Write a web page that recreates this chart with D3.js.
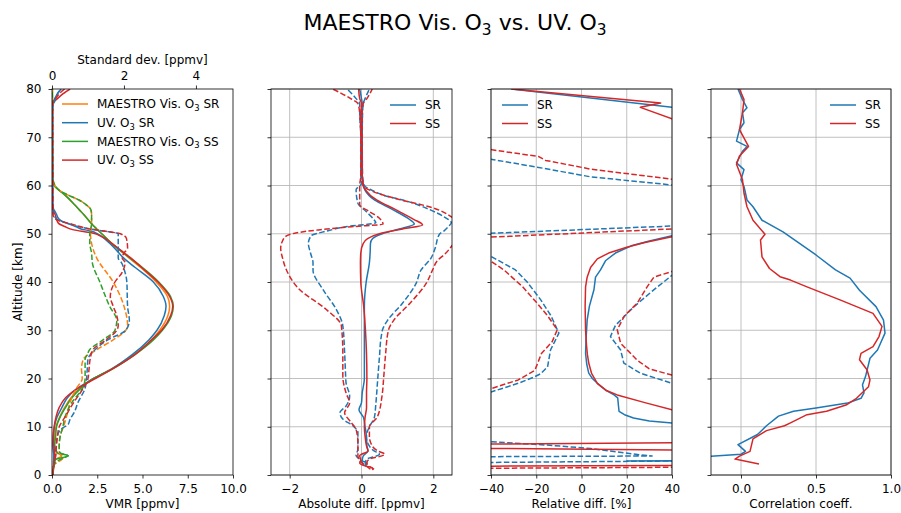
<!DOCTYPE html>
<html><head><meta charset="utf-8">
<script src="https://cdn.jsdelivr.net/npm/d3@7"></script>
<style>body{margin:0;background:#fff} svg{display:block} text{font-family:"DejaVu Sans",sans-serif;fill:#000}</style>
</head><body><svg id="c" width="901" height="513"></svg>
<script>
// ---------- DATA: [altitude km, value] ----------
// Panel 1: VMR profiles (ppmv)
const vmrVisSR = [[0,0.05],[2,0.1],[3.2,0.18],[4,0.55],[4.6,0.25],[6,0.12],[8,0.15],[10,0.22],[12,0.42],[14,0.7],[16,1.05],[18,1.55],[19,1.9],[20,2.3],[22,3.3],[25,4.55],[28,5.5],[30,5.95],[33,6.4],[35,6.5],[37,6.38],[40,5.75],[43,4.9],[45,4.25],[48,3.3],[50,2.75],[51,2.47],[52,2.2],[54,1.75],[55,1.5],[56,1.25],[58,0.72],[59,0.4],[60,0.12],[61,0.04],[65,0.02],[80,0.02]];
const vmrUvSR = [[0,0.05],[2,0.08],[4,0.1],[6,0.05],[8,0.07],[10,0.13],[12,0.28],[14,0.55],[16,0.85],[18,1.4],[19,1.85],[20,2.3],[22,3.3],[25,4.45],[28,5.35],[30,5.8],[33,6.2],[35,6.3],[37,6.15],[40,5.6],[43,4.6],[45,3.95],[46,3.7],[48,3.2],[49,2.9],[50,2.5],[50.5,2.2],[51,1.6],[51.5,1.3],[52,0.95],[52.5,0.6],[53,0.4],[54,0.25],[54.6,0.17],[55,0.1],[56,0.03],[65,0.02],[75,0.02],[77,0.05],[78,0.15],[79,0.3],[80,0.5]];
const vmrVisSS = [[0,0.05],[2,0.1],[3.2,0.2],[4,0.9],[4.6,0.3],[6,0.15],[8,0.2],[10,0.25],[12,0.45],[14,0.75],[16,1.1],[18,1.6],[19,1.9],[20,2.3],[22,3.35],[25,4.6],[28,5.6],[30,6.1],[33,6.6],[35,6.7],[37,6.55],[40,5.9],[43,5.0],[45,4.3],[48,3.3],[50,2.75],[51,2.47],[52,2.2],[54,1.75],[55,1.5],[56,1.25],[58,0.72],[59,0.4],[60,0.12],[61,0.04],[65,0.02],[80,0.02]];
const vmrUvSS = [[0,0.05],[2,0.1],[3,0.12],[4,0.15],[6,0.1],[8,0.08],[10,0.12],[12,0.22],[14,0.4],[16,0.75],[18,1.45],[19,1.9],[20,2.4],[22,3.35],[25,4.6],[28,5.5],[30,6.05],[33,6.55],[35,6.67],[37,6.5],[40,5.85],[43,4.95],[45,4.35],[46,4.0],[48,3.3],[49.5,2.7],[50.1,2.28],[50.4,1.8],[50.8,1.2],[51.5,0.7],[52.2,0.35],[53,0.25],[54,0.17],[54.5,0.1],[56,0.03],[65,0.02],[76,0.02],[77,0.05],[78,0.3],[79,0.6],[80,1.0]];
// Panel 1: standard deviations (ppmv, top axis)
const sdVisSR = [[0,0.02],[2,0.05],[3.5,0.3],[4,0.25],[5,0.2],[6,0.2],[8,0.22],[10,0.32],[12,0.4],[15,0.5],[18,0.68],[20,0.84],[22,0.82],[24,0.87],[26,1.25],[28,1.7],[30,2.05],[31,2.1],[35,2.0],[40,1.7],[45,1.24],[48,1.1],[50,1.07],[52,1.1],[54,1.1],[55,1.08],[56,0.95],[57,0.75],[58,0.45],[59,0.2],[60,0.08],[62,0.02],[80,0.01]];
const sdUvSR = [[0,0.02],[2,0.05],[4,0.1],[6,0.12],[8,0.15],[9.5,0.25],[10.5,0.45],[11.5,0.5],[13,0.62],[15,0.72],[18,0.92],[20,0.96],[22,0.98],[24,1.0],[26,1.2],[28,1.55],[30,2.05],[32,2.15],[35,2.1],[40,2.08],[42,2.03],[44,1.93],[45,1.84],[48,1.84],[50,1.84],[50.5,1.5],[51,1.05],[52,0.5],[53,0.15],[54,0.05],[56,0.02],[76,0.02],[78,0.1],[79,0.15],[80,0.25]];
const sdVisSS = [[0,0.02],[2,0.05],[3.5,0.3],[4,0.45],[4.5,0.25],[5,0.2],[6,0.2],[8,0.23],[10,0.3],[12,0.36],[15,0.55],[18,0.85],[20,0.92],[22,0.92],[24,0.92],[25,0.98],[26,1.05],[28,1.42],[30,1.75],[32,1.8],[35,1.6],[40,1.33],[44,1.12],[46,1.1],[48,1.05],[50,1.05],[52,1.1],[54,1.1],[55,1.08],[56,0.95],[57,0.75],[58,0.45],[59,0.2],[60,0.08],[62,0.02],[80,0.01]];
const sdUvSS = [[0,0.02],[2,0.05],[4,0.1],[6,0.12],[8,0.15],[10,0.2],[12,0.36],[15,0.6],[18,0.87],[20,1.0],[22,1.03],[24,1.06],[26,1.14],[28,1.5],[30,1.8],[31,1.84],[33,1.8],[35,1.7],[37,1.62],[40,1.75],[42,1.95],[44,2.03],[45,1.95],[46,2.0],[47,2.1],[49,2.07],[50,1.9],[50.5,1.5],[51,1.05],[52,0.55],[53,0.1],[54,0.03],[77,0.02],[78,0.1],[79,0.2],[80,0.35]];

// Panel 2: absolute difference (ppmv)
const absSR = [[1.8,0.1],[2.5,0.15],[3,0.02],[4,0.05],[5,0.18],[6,0.15],[8,0.14],[10,0.1],[12,0.05],[13.5,-0.07],[15,0.0],[17,0.02],[20,0.08],[25,0.08],[30,0.08],[35,0.08],[40,0.13],[44,0.22],[46,0.24],[48,0.25],[49,0.31],[50,0.58],[51,1.05],[52,1.47],[53,1.33],[55,0.87],[57,0.36],[59,0.1],[60,0.05],[62,0.02],[65,0.0],[75,0.0],[77,0.02],[78,0.0],[80,-0.05]];
const absSRlo = [[2,0.05],[3,0.0],[4,-0.15],[5.4,-0.1],[7,-0.1],[8.8,-0.1],[10.2,-0.24],[11.6,-0.52],[12.9,-0.6],[14.3,-0.43],[16.3,-0.33],[19.1,-0.43],[22,-0.45],[25.4,-0.47],[30.9,-0.52],[34.3,-0.7],[38.4,-1.07],[42.5,-1.35],[44,-1.35],[46,-1.42],[48,-1.48],[49.6,-1.4],[50.5,-1.0],[51.5,-0.4],[52.3,0.4],[52.8,0.36],[54.6,0.13],[56.3,-0.1],[59.1,-0.15],[60.4,0.0],[62,-0.02],[70,-0.02],[75,-0.05],[77,-0.05],[78,-0.15],[80,-0.4]];
const absSRhi = [[2,0.1],[3.2,0.13],[4.3,0.5],[5,0.35],[6,0.22],[8,0.13],[10,0.22],[12,0.36],[14.8,0.4],[19.7,0.45],[24.5,0.5],[28.7,0.55],[30.4,0.6],[32.1,0.73],[35.6,1.14],[39.7,1.52],[42.5,1.66],[45,1.94],[47,2.05],[49.9,2.17],[50.6,2.3],[51.5,2.42],[52.3,2.5],[53.5,2.3],[55,1.9],[56.8,1.24],[58,0.6],[59,0.3],[60,0.08],[62,0.03],[70,0.02],[75,0.03],[77,0.05],[78,0.1],[80,0.22]];
const absSS = [[1.0,0.32],[1.5,0.3],[2,0.05],[2.5,-0.05],[3,-0.02],[4,-0.05],[5,0.18],[6,0.14],[8,0.1],[10,0.08],[12,0.1],[14,0.14],[17,0.14],[20,0.15],[25,0.14],[30,0.11],[35,0.06],[40,-0.02],[44,-0.03],[46,-0.02],[48,0.05],[49,0.17],[50,0.5],[51,1.15],[51.8,1.7],[53,1.45],[55,0.95],[57,0.42],[59,0.12],[60,0.05],[62,0.02],[70,0.0],[75,-0.02],[77,0.0],[78,-0.05],[80,-0.08]];
const absSSlo = [[1.2,0.25],[2,0.1],[2.6,0.0],[4,-0.1],[6.8,-0.1],[9.4,-0.15],[11,-0.3],[12.9,-0.47],[14.9,-0.33],[17,-0.43],[20.5,-0.52],[25.4,-0.52],[30.9,-0.56],[34.3,-0.98],[38.4,-1.72],[42.5,-2.09],[45,-2.2],[47,-2.25],[48.5,-2.2],[49.5,-2.1],[50.2,-1.8],[50.8,-1.2],[51.5,-0.2],[52,0.6],[53.2,0.5],[54.6,0.22],[56,-0.05],[60,-0.05],[62,-0.02],[70,-0.02],[75,-0.05],[77,-0.1],[78,-0.3],[80,-0.8]];
const absSShi = [[1.2,0.35],[2.5,0.15],[3.2,0.2],[4.3,0.65],[5,0.45],[6,0.3],[8,0.22],[10,0.22],[12,0.44],[16.3,0.57],[20.4,0.62],[25,0.67],[30,0.75],[32.1,0.9],[35.6,1.35],[39.7,1.8],[42.5,1.98],[44.3,2.1],[46,2.35],[47.8,2.55],[50,2.8],[52,2.8],[53.3,2.55],[55.4,1.98],[57.1,1.05],[58.8,0.3],[60,0.05],[62,0.02],[70,0.02],[75,0.02],[77,0.05],[78,0.15],[80,0.3]];

// Panel 3: relative difference (%)
const relSR = [[1.5,80],[2.85,60],[2.92,20],[3.0,60],[5,80],[9,70],[10.8,40],[11.2,30],[11.8,23],[12.5,19],[13.2,16.6],[14.5,16.3],[16,16],[16.6,14.4],[17.5,11],[19,7],[20,4.8],[21.1,3.2],[23,2.3],[25.2,1.8],[28,2],[32.1,2.5],[35,3.5],[38.4,5.5],[41,6.2],[42.5,8.4],[44.4,10.6],[46,15],[47.5,22],[48.5,30],[49.6,40],[52,70],[60,90],[74,70],[76.2,40],[80,-31]];
const relSRa = [[2.45,-80],[3.05,80],[10,70],[19,40],[21.1,26],[23.2,18.7],[25.9,17.3],[28.7,12.8],[31,15],[34.8,23],[38,31],[41.4,40],[45,70],[55,80],[60.1,40],[61.8,4],[63.8,-19.6],[65.4,-39.5],[68,-70],[80,-80]];
const relSRb = [[1.0,-70],[3.6,-70],[3.8,-40],[3.94,31.2],[4.15,26],[5.5,4],[6.2,-15.2],[6.9,-40],[7.5,-70],[12,-70],[17.2,-40],[19,-28],[20.3,-21],[21,-18],[22.4,-15],[25.9,-13.7],[27.5,-12],[29.4,-10],[33,-13.5],[36.3,-18],[40,-24],[42.5,-29.2],[43.5,-33],[45.3,-40],[47,-70],[49,-70],[50.1,-40],[51.6,40],[52.5,70],[58,80],[80,80]];
const relSS = [[1.2,-60],[1.8,-60],[2.0,60],[5.1,60],[5.6,-60],[6.35,-60],[6.75,60],[8,80],[12,60],[13.5,40],[15,28],[16.6,15.8],[17.5,11],[19,7],[21,4.5],[23.2,3.2],[25,2.6],[27,2.2],[30,1.8],[35,1.6],[39,1.8],[41,2.5],[43,4],[44.8,7],[46,12],[47.2,20],[48.2,28],[49.4,40],[52,70],[60,90],[72,70],[73.8,40],[76.2,26],[77.1,35],[80,-31]];
const relSSa = [[1.3,-80],[1.7,80],[10,70],[20.7,40],[22,30],[23.8,24.6],[27.3,17.3],[30.1,15.8],[33,19],[35.6,24.6],[39,29],[41,32],[42.2,40],[45,70],[55,80],[61.3,40],[63.4,4],[65.2,-15.9],[66.0,-18.9],[67.4,-39.5],[70,-70],[80,-80]];
const relSSb = [[1.0,-80],[10,-80],[17.9,-40],[19.7,-28],[21.7,-20.6],[25.2,-17.7],[27.6,-13],[30.1,-10.7],[33,-15],[35.6,-19.6],[39,-26],[42.5,-34.3],[44.3,-40],[47,-70],[48.5,-70],[49.3,-40],[51.0,40],[52,70],[58,80],[80,80]];

// Panel 4: correlation coefficient
const corSR = [[3.8,-0.25],[4.3,0.0],[4.9,0.03],[6.3,-0.02],[8.4,0.11],[10.2,0.17],[12.2,0.25],[13.2,0.35],[13.9,0.5],[14.9,0.71],[15.9,0.8],[17,0.82],[18.7,0.81],[20.4,0.83],[24.2,0.86],[25.9,0.91],[29.4,0.96],[32.1,0.95],[34.9,0.9],[38.3,0.79],[40.8,0.727],[42.5,0.63],[45.6,0.5],[48,0.39],[50.4,0.28],[52.8,0.14],[55.6,0.08],[57,0.04],[59.8,0.02],[61.2,0.0],[63.3,0.02],[64.7,-0.03],[67.1,0.01],[68.1,0.04],[69.2,-0.03],[71.6,-0.01],[73,0.02],[75.1,0.01],[76.1,0.04],[77.8,0.01],[80,-0.02]];
const corSS = [[2.3,0.12],[3.3,-0.04],[3.9,-0.01],[4.9,0.06],[7.5,0.08],[9.2,0.17],[10.2,0.29],[10.8,0.33],[12.5,0.44],[13.2,0.57],[14.5,0.7],[15.9,0.77],[18.3,0.85],[19.7,0.86],[21.8,0.84],[23.9,0.79],[25.2,0.8],[26.6,0.88],[28.7,0.92],[30.8,0.94],[33.5,0.88],[36.3,0.66],[39.0,0.44],[40.4,0.33],[41.1,0.26],[42.8,0.19],[45.2,0.14],[48.7,0.13],[49.9,0.16],[52.8,0.08],[55.6,0.04],[58.4,0.02],[61.2,0.01],[64.4,-0.03],[66.1,-0.01],[68.1,0.05],[71.6,-0.01],[75.1,0.01],[77.8,0.02],[80,-0.01]];

// tick values
const altTicks = [0,10,20,30,40,50,60,70,80];
const vmrTicks = [0,2.5,5,7.5,10];
const sdTicks = [0,2,4];
const absTicks = [-2,0,2];
const relTicks = [-40,-20,0,20,40];
const corTicks = [0,0.5,1];

// ---------- DRAWING ----------
const C = {blue:"#1f77b4", orange:"#ff7f0e", green:"#2ca02c", red:"#d62728"};
const svg = d3.select("#c");
const yS = d3.scaleLinear().domain([0,80]).range([475,89]);
const yTop = 89, yBot = 475;
const FS = 12;

svg.append("text").attr("x",455).attr("y",30).attr("text-anchor","middle").style("font-size","22px")
  .call(t=>{t.append("tspan").text("MAESTRO Vis. O");t.append("tspan").attr("dy",4.5).style("font-size","15.4px").text("3");
            t.append("tspan").attr("dy",-4.5).text(" vs. UV. O");t.append("tspan").attr("dy",4.5).style("font-size","15.4px").text("3");});

function panel(x0,x1,domain,ticks,fmt,grid,id){
  const xS = d3.scaleLinear().domain(domain).range([x0,x1]);
  const g = svg.append("g");
  svg.append("clipPath").attr("id",id).append("rect").attr("x",x0).attr("y",yTop).attr("width",x1-x0).attr("height",yBot-yTop);
  if(grid){
    g.selectAll(".gx").data(ticks).enter().append("line").attr("x1",d=>xS(d)).attr("x2",d=>xS(d)).attr("y1",yTop).attr("y2",yBot)
      .attr("stroke","#b0b0b0").attr("stroke-width",0.8);
    g.selectAll(".gy").data(altTicks).enter().append("line").attr("y1",d=>yS(d)).attr("y2",d=>yS(d)).attr("x1",x0).attr("x2",x1)
      .attr("stroke","#b0b0b0").attr("stroke-width",0.8);
  }
  const lines = svg.append("g").attr("clip-path",`url(#${id})`);
  const ax = svg.append("g").attr("transform",`translate(0,${yBot})`)
    .call(d3.axisBottom(xS).tickValues(ticks).tickFormat(fmt).tickSize(3.5).tickSizeOuter(0).tickPadding(6));
  const ay = svg.append("g").attr("transform",`translate(${x0},0)`)
    .call(d3.axisLeft(yS).tickValues(altTicks).tickSize(3.5).tickSizeOuter(0).tickPadding(7).tickFormat(grid?"":d3.format("d")));
  [ax,ay].forEach(a=>{a.select(".domain").remove(); a.selectAll("line").attr("stroke","#000").attr("stroke-width",0.8);
     a.selectAll("text").style("font-size",FS+"px").style("font-family","DejaVu Sans").attr("fill","#000");});
  return {xS,lines,x0,x1};
}
function frame(p){
  svg.append("rect").attr("x",p.x0).attr("y",yTop).attr("width",p.x1-p.x0).attr("height",yBot-yTop)
    .attr("fill","none").attr("stroke","#000").attr("stroke-width",0.8);
}
function draw(p,xS,data,color,dashed,curve){
  const ln = d3.line().x(d=>xS(d[1])).y(d=>yS(d[0])).curve(curve||d3.curveMonotoneY);
  p.lines.append("path").datum(data.slice().sort((a,b)=>a[0]-b[0])).attr("d",ln).attr("fill","none")
    .attr("stroke",color).attr("stroke-width",1.5).attr("stroke-dasharray",dashed?"5.55,2.4":null)
    .attr("stroke-linejoin","round");
}
function legend(items,xl,y0,dy){
  items.forEach((it,i)=>{
    const y=y0+i*dy;
    svg.append("line").attr("x1",xl).attr("x2",xl+26).attr("y1",y).attr("y2",y).attr("stroke",it.c).attr("stroke-width",1.5);
    const t=svg.append("text").attr("x",xl+35).attr("y",y+4.3).style("font-size",FS+"px");
    it.t.forEach(s=>{ if(s.sub){t.append("tspan").attr("dy",2.6).style("font-size","8.4px").text(s.sub);}
                       else {t.append("tspan").attr("dy",s.back?-2.6:0).text(s.s);} });
  });
}

// Panel 1
const p1 = panel(52,233,[0,10],vmrTicks,d3.format(".1f"),false,"cp1");
const sdS = d3.scaleLinear().domain([0,5.03]).range([52,233]);
[[vmrVisSR,C.orange],[vmrUvSR,C.blue],[vmrVisSS,C.green],[vmrUvSS,C.red]].forEach(s=>draw(p1,p1.xS,s[0],s[1],false));
[[sdVisSR,C.orange],[sdUvSR,C.blue],[sdVisSS,C.green],[sdUvSS,C.red]].forEach(s=>draw(p1,sdS,s[0],s[1],true));
const axT = svg.append("g").attr("transform",`translate(0,${yTop})`)
  .call(d3.axisTop(sdS).tickValues(sdTicks).tickFormat(d3.format("d")).tickSize(3.5).tickSizeOuter(0).tickPadding(5.5));
axT.select(".domain").remove(); axT.selectAll("line").attr("stroke","#000").attr("stroke-width",0.8);
axT.selectAll("text").style("font-size",FS+"px").style("font-family","DejaVu Sans").attr("fill","#000");
frame(p1);
legend([
  {c:C.orange,t:[{s:"MAESTRO Vis. O"},{sub:"3"},{s:" SR",back:true}]},
  {c:C.blue,t:[{s:"UV. O"},{sub:"3"},{s:" SR",back:true}]},
  {c:C.green,t:[{s:"MAESTRO Vis. O"},{sub:"3"},{s:" SS",back:true}]},
  {c:C.red,t:[{s:"UV. O"},{sub:"3"},{s:" SS",back:true}]}],62,104,18.7);

// Panel 2
const p2 = panel(271,452,[-2.52,2.52],absTicks,d3.format("d"),true,"cp2");
draw(p2,p2.xS,absSR,C.blue,false); draw(p2,p2.xS,absSRlo,C.blue,true); draw(p2,p2.xS,absSRhi,C.blue,true);
draw(p2,p2.xS,absSS,C.red,false); draw(p2,p2.xS,absSSlo,C.red,true); draw(p2,p2.xS,absSShi,C.red,true);
frame(p2);
legend([{c:C.blue,t:[{s:"SR"}]},{c:C.red,t:[{s:"SS"}]}],390,105,18.5);

// Panel 3
const p3 = panel(491,672,[-40,40],relTicks,d3.format("d"),true,"cp3");
const L = d3.curveLinear;
draw(p3,p3.xS,relSR,C.blue,false,L); draw(p3,p3.xS,relSRa,C.blue,true,L); draw(p3,p3.xS,relSRb,C.blue,true,L);
draw(p3,p3.xS,relSS,C.red,false,L); draw(p3,p3.xS,relSSa,C.red,true,L); draw(p3,p3.xS,relSSb,C.red,true,L);
frame(p3);
legend([{c:C.blue,t:[{s:"SR"}]},{c:C.red,t:[{s:"SS"}]}],502,105,18.5);

// Panel 4
const p4 = panel(711,891,[-0.2,1.0],corTicks,d3.format(".1f"),true,"cp4");
draw(p4,p4.xS,corSR,C.blue,false,L); draw(p4,p4.xS,corSS,C.red,false,L);
frame(p4);
legend([{c:C.blue,t:[{s:"SR"}]},{c:C.red,t:[{s:"SS"}]}],830,105,18.5);

// axis labels
const lab=(x,y,s)=>svg.append("text").attr("x",x).attr("y",y).attr("text-anchor","middle").style("font-size",FS+"px").text(s);
lab(142.5,508,"VMR [ppmv]");
lab(142.5,64,"Standard dev. [ppmv]");
lab(361.5,508,"Absolute diff. [ppmv]");
lab(581.5,508,"Relative diff. [%]");
lab(801,508,"Correlation coeff.");
svg.append("text").attr("transform","translate(22,282) rotate(-90)").attr("text-anchor","middle").style("font-size",FS+"px").text("Altitude [km]");
</script></body></html>
